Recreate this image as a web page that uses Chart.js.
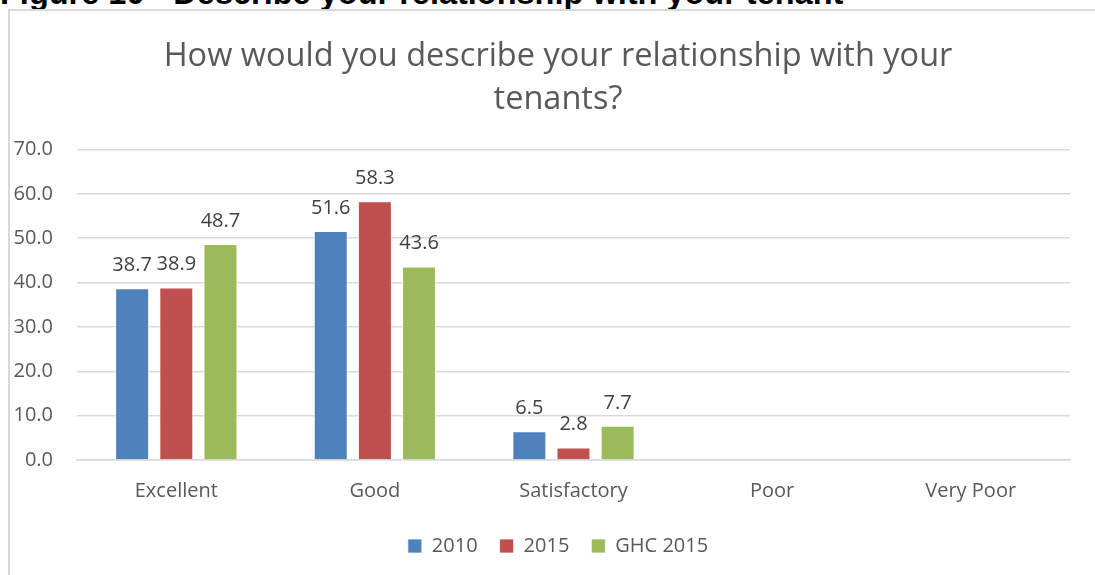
<!DOCTYPE html>
<html>
<head>
<meta charset="utf-8">
<script src="https://cdn.jsdelivr.net/npm/chart.js@4.4.0/dist/chart.umd.min.js"></script>
<style>
  body { margin: 0; background: #fff; width: 1095px; height: 575px; overflow: hidden; position: relative; font-family: "Open Sans", sans-serif; }
  #fig { position: absolute; left: 0; top: -26px; font: bold 32.5px/38px "Liberation Sans", Arial, sans-serif; color: #000; white-space: nowrap; }
  #box { position: absolute; left: 8px; top: 9px; width: 1120px; height: 580px; border: 2px solid #d9d9d9; box-sizing: border-box; background: #fff; }
  #wrap { position: absolute; left: 0px; top: 0px; width: 1096px; height: 566px; }
</style>
</head>
<body>
<div id="fig">Figure 10 - Describe your relationship with your tenant</div>
<div id="box"><div id="wrap"><canvas id="relChart"></canvas></div></div>
<script>
const categories = ['Excellent', 'Good', 'Satisfactory', 'Poor', 'Very Poor'];
const series2010 = [38.7, 51.6, 6.5, null, null];
const series2015 = [38.9, 58.3, 2.8, null, null];
const seriesGhc2015 = [48.7, 43.6, 7.7, null, null];
const yTicks = [0, 10, 20, 30, 40, 50, 60, 70];

// draws the value above every bar
const barLabels = {
    id: 'barLabels',
    afterDatasetsDraw(chart) {
        const ctx = chart.ctx;
        ctx.save();
        ctx.font = '20px "Open Sans", sans-serif';
        ctx.fillStyle = '#404040';
        ctx.textAlign = 'center';
        ctx.textBaseline = 'bottom';
        chart.data.datasets.forEach((ds, i) => {
            const meta = chart.getDatasetMeta(i);
            meta.data.forEach((bar, j) => {
                if (ds.data[j] === null) return;
                ctx.fillText(ds.data[j].toFixed(1), bar.x, bar.y - 13);
            });
        });
        ctx.restore();
    }
};

const ctx = document.getElementById('relChart').getContext('2d');
const chart = new Chart(ctx, {
    type: 'bar',
    data: {
        labels: categories,
        datasets: [{
            label: '2010',
            data: series2010,
            backgroundColor: '#4f81bd',
            borderColor: 'rgba(255,255,255,0.7)',
            borderWidth: 1
        }, {
            label: '2015',
            data: series2015,
            backgroundColor: '#c0504d',
            borderColor: 'rgba(255,255,255,0.7)',
            borderWidth: 1
        }, {
            label: 'GHC 2015',
            data: seriesGhc2015,
            backgroundColor: '#9bbb59',
            borderColor: 'rgba(255,255,255,0.7)',
            borderWidth: 1
        }]
    },
    plugins: [barLabels],
    options: {
        responsive: true,
        maintainAspectRatio: false,
        animation: false,
        datasets: {
            bar: { categoryPercentage: 0.667, barPercentage: 0.77 }
        },
        layout: { padding: { left: 0, right: 0, top: 0, bottom: 11 } },
        plugins: {
            title: {
                display: true,
                text: ['How would you describe your relationship with your', 'tenants?'],
                color: '#595959',
                font: { family: '"Open Sans", sans-serif', size: 32.5, weight: 'normal', lineHeight: 1.33 },
                padding: { top: 24, bottom: 28 }
            },
            legend: {
                position: 'bottom',
                labels: {
                    color: '#595959',
                    font: { family: '"Open Sans", sans-serif', size: 20 },
                    boxWidth: 14,
                    boxHeight: 14,
                    padding: 22
                }
            },
            tooltip: { enabled: false }
        },
        scales: {
            x: {
                grid: { display: false },
                border: { color: '#d9d9d9', width: 1.5 },
                ticks: {
                    color: '#595959',
                    font: { family: '"Open Sans", sans-serif', size: 20 },
                    padding: 11
                }
            },
            y: {
                min: 0,
                max: 70,
                afterBuildTicks: axis => { axis.ticks = yTicks.map(v => ({ value: v })); },
                afterFit: axis => { axis.width = 67; },
                grid: { color: '#d9d9d9', lineWidth: 1.5, drawTicks: false },
                border: { display: false },
                ticks: {
                    color: '#595959',
                    font: { family: '"Open Sans", sans-serif', size: 20 },
                    padding: 24,
                    callback: v => v.toFixed(1)
                }
            },
            yRight: {
                position: 'right',
                display: true,
                grid: { display: false },
                border: { display: false },
                ticks: { display: false },
                afterFit: axis => { axis.width = 36; }
            }
        }
    }
});
</script>
</body>
</html>
